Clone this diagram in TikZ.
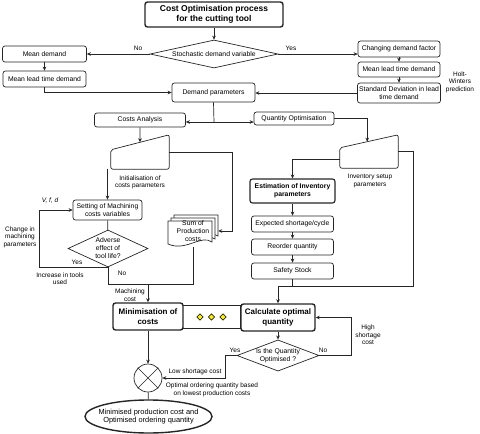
\documentclass[tikz,border=0pt]{standalone}
\usepackage{fontspec}
\setmainfont{Liberation Sans}
\usetikzlibrary{shapes.geometric,calc,arrows.meta}

\tikzset{
  wire/.style={draw=black!85, line width=0.7pt},
  box/.style={rectangle, rounded corners=2.5pt, draw=black!85, line width=0.7pt, fill=white,
    align=center, inner sep=1pt, font=\fontsize{6.8}{8}\selectfont},
  boldbox/.style={box, line width=1.4pt, font=\bfseries\fontsize{8}{9.5}\selectfont},
  decision/.style={diamond, draw=black!85, line width=0.7pt, align=center,
    inner sep=0pt, font=\fontsize{6.8}{8}\selectfont},
  note/.style={align=center, inner sep=0pt, font=\fontsize{6.5}{7.6}\selectfont},
}

\begin{document}
\begin{tikzpicture}[x=1pt, y=-1pt, >={Stealth[length=4pt,width=3.6pt]}]
    \useasboundingbox (0,0) rectangle (480,434);

    % demand side
    \node[boldbox, minimum width=138pt, minimum height=25pt, font=\bfseries\fontsize{8.5}{10}\selectfont] (title) at (214,14.5) {Cost Optimisation process\\for the cutting tool};
    \node[decision, minimum width=128pt, minimum height=28pt, aspect=4.5] (stoch) at (214,54) {Stochastic demand variable};
    \node[box, minimum width=84pt, minimum height=16pt] (mean) at (44.5,54) {Mean demand};
    \node[box, minimum width=83pt, minimum height=16pt] (meanlt) at (44.5,79) {Mean lead time demand};
    \node[box, minimum width=82pt, minimum height=16pt] (change) at (399,49) {Changing demand factor};
    \node[box, minimum width=82pt, minimum height=15pt] (meanlt2) at (399,69.5) {Mean lead time demand};
    \node[box, minimum width=83pt, minimum height=20pt] (sd) at (399,93) {Standard Deviation in lead\\time demand};
    \node[box, minimum width=83pt, minimum height=19pt] (demand) at (213.5,92.5) {Demand parameters};
    \node[note] (holt) at (460,82) {Holt-\\Winters\\prediction};
    \node[note] (no1) at (138,48) {No};
    \node[note] (yes1) at (291,48) {Yes};

    \draw[wire,->] (title) -- (stoch);
    \draw[wire,->] (stoch.west) -- (mean.east);
    \draw[wire,->] (stoch.east) -- (stoch.east -| change.west);
    \draw[wire,->] (mean) -- (meanlt);
    \draw[wire,->] (meanlt.south) |- (demand.west);
    \draw[wire,->] (change) -- (meanlt2);
    \draw[wire,->] (meanlt2) -- (sd);
    \draw[wire,->] (sd.west) -- (sd.west -| demand.east);

    \node[box, minimum width=91pt, minimum height=14pt] (costs) at (140,120) {Costs Analysis};
    \node[box, minimum width=80pt, minimum height=13pt] (qopt) at (294,118.5) {Quantity Optimisation};
    \coordinate (split) at (214,122);
    \draw[wire] (demand.south) -- (split);
    \draw[wire,->] (split) -- (split -| costs.east);
    \draw[wire,->] (split) -- (split -| qopt.west);

    % cost side
    \node[minimum width=58pt, minimum height=34pt, inner sep=0pt] (init) at (140,152) {};
    \coordinate (initnw) at ($(init.north west)+(0,15)$);
    \draw[wire, rounded corners=2pt] (init.south west) -- (initnw) -- (init.north east) -- (init.south east) -- cycle;
    \node[note] (initlbl) at (140,182.5) {Initialisation of\\costs parameters};
    \draw[wire,->] (costs.south) -- ($(initnw)!0.5!(init.north east)$);

    \node[box, minimum width=69pt, minimum height=20pt] (set) at (107.5,210) {Setting of Machining\\costs variables};
    \node[decision, minimum width=80pt, minimum height=37pt, aspect=2.2] (adv) at (108,248.5) {Adverse\\effect of\\tool life?};
    \node[note, font=\itshape\fontsize{6.5}{7.6}\selectfont] (vfd) at (50,201) {V, f, d};
    \node[note] (chg) at (20,237) {Change in\\machining\\parameters};
    \node[note] (incr) at (60,278.5) {Increase in tools\\used};
    \node[note] (yes2) at (77,262) {Yes};
    \node[note] (no2) at (122,273) {No};
    \node[note] (mcost) at (130,295) {Machining\\cost};

    \draw[wire,->] (set.north |- init.south) -- (set.north);
    \draw[wire] (set) -- (adv);
    \draw[wire,->] (adv.south) -- ++(-69,0) |- (set.west);

    % stacked documents
    \foreach \d in {6,3,0}
        \draw[wire, fill=white] (168+\d,221-\d) -- (212+\d,221-\d) -- (212+\d,242-\d)
            .. controls (201+\d,234-\d) and (186+\d,252-\d) .. (168+\d,244-\d) -- cycle;
    \node[note, minimum width=50pt, minimum height=32pt, font=\fontsize{6.8}{8}\selectfont] (sum) at (193,231) {Sum of\\Production\\costs};
    \draw[wire,->] (init.east) -- ++(63,0) |- (sum.east);

    \node[box, draw=black!85, minimum width=58pt, minimum height=23pt, rounded corners=0pt] (dots) at (211.5,316.5) {};
    \foreach \i/\px in {1/200, 2/211.5, 3/223}
        \node[diamond, draw=black!85, fill=yellow, minimum size=6.5pt, inner sep=0pt, line width=0.6pt] (dot\i) at (\px,317) {};
    \node[boldbox, minimum width=70pt, minimum height=27pt] (mini) at (148,316.5) {Minimisation of\\costs};
    \node[boldbox, minimum width=74pt, minimum height=27pt] (calc) at (278,317.5) {Calculate optimal\\quantity};

    \coordinate (join) at (148,284);
    \draw[wire] (adv.south) |- (join);
    \draw[wire] (sum.south) |- (join);
    \draw[wire,->] (join) -- (mini.north);

    % inventory side
    \node[minimum width=58pt, minimum height=33pt, inner sep=0pt] (inv) at (369,151.5) {};
    \coordinate (invnw) at ($(inv.north west)+(0,13)$);
    \draw[wire, rounded corners=2pt] (inv.south west) -- (invnw) -- (inv.north east) -- (inv.south east) -- cycle;
    \node[note] (invlbl) at (370,181) {Inventory setup\\parameters};
    \draw[wire,->] (qopt.east) -| ($(invnw)!0.47!(inv.north east)$);

    \node[box, line width=1.1pt, minimum width=85pt, minimum height=24pt, font=\bfseries\fontsize{6.8}{8}\selectfont] (est) at (292.5,191) {Estimation of Inventory\\parameters};
    \node[box, minimum width=82pt, minimum height=16pt] (exp) at (292.5,224) {Expected shortage/cycle};
    \node[box, minimum width=82pt, minimum height=16pt] (reorder) at (292.5,247) {Reorder quantity};
    \node[box, minimum width=82pt, minimum height=16pt] (safety) at (292.5,271) {Safety Stock};

    \draw[wire,->] ($(inv.west)+(0,7.5)$) -| (est.north);
    \foreach \a/\b in {est/exp, exp/reorder, reorder/safety}
        \draw[wire,->] (\a) -- (\b);

    \coordinate (join2) at (278,286);
    \draw[wire] (inv.east) -- ++(15,0) |- (join2);
    \draw[wire] (safety.south) -- (safety.south |- join2);
    \draw[wire,->] (join2) -- (calc.north);

    % decision on quantity
    \node[decision, minimum width=82pt, minimum height=31pt, aspect=2.6] (q) at (278,355.5) {Is the Quantity\\Optimised ?};
    \node[note] (no3) at (323,350) {No};
    \node[note] (yes3) at (235,350) {Yes};
    \node[note] (high) at (368,335) {High\\shortage\\cost};
    \node[note] (low) at (195,372) {Low shortage cost};
    \node[note] (opt) at (212,390) {Optimal ordering quantity based\\on lowest production costs};

    \draw[wire,->] (calc) -- (q);
    \draw[wire,->] (q.east) -- ++(32,0) |- (calc.east);

    \node[circle, wire, minimum size=28pt, inner sep=0pt] (circ) at (148,378) {};
    \draw[wire] (circ.north west) -- (circ.south east) (circ.north east) -- (circ.south west);
    \draw[wire,->] (q.west) -- ++(-11,0) |- (circ.east);
    \draw[wire,->] (mini) -- (circ);

    \node[ellipse, draw=black!85, line width=1.4pt, minimum width=127pt, minimum height=33pt, inner xsep=-9pt, inner ysep=2pt, align=center, font=\fontsize{7.4}{8.8}\selectfont] (ell) at (148.5,416.5) {Minimised production cost and\\Optimised ordering quantity};
    \draw[wire] (circ) -- (ell);
\end{tikzpicture}
\end{document}
